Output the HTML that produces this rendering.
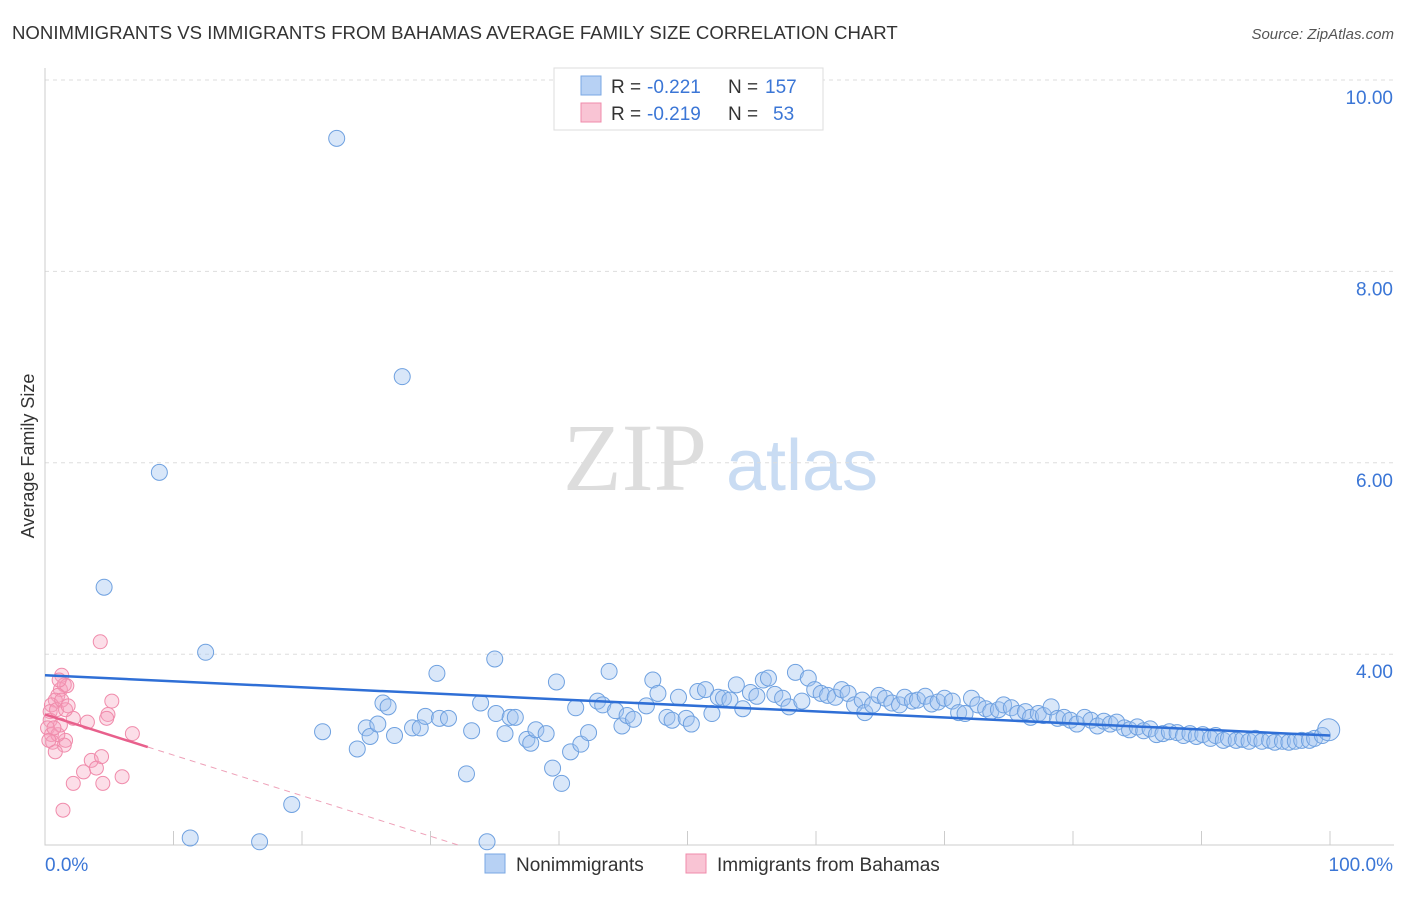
<!DOCTYPE html>
<html><head><meta charset="utf-8"><style>
body{margin:0;background:#fff;font-family:"Liberation Sans",sans-serif;}
</style></head><body>
<svg id="chart" width="1406" height="892" font-family="Liberation Sans, sans-serif">
<text x="12" y="39" font-size="18.6" fill="#333">NONIMMIGRANTS VS IMMIGRANTS FROM BAHAMAS AVERAGE FAMILY SIZE CORRELATION CHART</text>
<text x="1394" y="39" font-size="15" fill="#555" font-style="italic" text-anchor="end">Source: ZipAtlas.com</text>
<text transform="translate(34,456) rotate(-90)" font-size="18" fill="#333" text-anchor="middle">Average Family Size</text>
<g>
<text x="635" y="490" font-size="96" style="font-family:'Liberation Serif',serif" fill="#ddd" text-anchor="middle">ZIP</text>
<text x="802" y="490" font-size="72" fill="#c9dcf3" text-anchor="middle">atlas</text>
</g>
<g id="grid"></g><g id="axes"></g><g id="marks"></g>
<g>
<rect x="554" y="68" width="269" height="62" fill="#fff" stroke="#ddd"/>
<rect x="581" y="76" width="20" height="19" fill="#b7d1f4" stroke="#7aa7e3"/>
<rect x="581" y="103" width="20" height="19" fill="#f9c4d4" stroke="#f08bab"/>
<text x="611" y="93" font-size="19" fill="#333">R =</text>
<text x="647" y="93" font-size="19" fill="#3b76d6">-0.221</text>
<text x="728" y="93" font-size="19" fill="#333">N =</text>
<text x="765" y="93" font-size="19" fill="#3b76d6">157</text>
<text x="611" y="120" font-size="19" fill="#333">R =</text>
<text x="647" y="120" font-size="19" fill="#3b76d6">-0.219</text>
<text x="728" y="120" font-size="19" fill="#333">N =</text>
<text x="773" y="120" font-size="19" fill="#3b76d6">53</text>
</g>
<g>
<rect x="485" y="854" width="20" height="19" fill="#b7d1f4" stroke="#7aa7e3"/>
<text x="516" y="871" font-size="19" fill="#333">Nonimmigrants</text>
<rect x="686" y="854" width="20" height="19" fill="#f9c4d4" stroke="#f08bab"/>
<text x="717" y="871" font-size="19" fill="#333">Immigrants from Bahamas</text>
</g>
<text x="45" y="871" font-size="19" fill="#3b76d6">0.0%</text>
<text x="1393" y="871" font-size="19" fill="#3b76d6" text-anchor="end">100.0%</text>
</svg>
<script>
const yTicks=[4,6,8,10];
const yTickLabels=["4.00","6.00","8.00","10.00"];
const xTicks=[0,10,20,30,40,50,60,70,80,90,100];
const blueX=[22.7,27.8,8.9,4.6,12.5,11.3,16.7,19.2,34.4,21.6,24.3,25.0,25.3,25.9,26.3,26.7,27.2,28.6,29.2,29.6,30.5,30.7,31.4,32.8,33.2,33.9,35.0,35.1,35.8,36.2,36.6,37.5,37.8,38.2,39.0,39.5,39.8,40.2,40.9,41.3,41.7,42.3,43.0,43.4,43.9,44.4,44.9,45.3,45.8,46.8,47.3,47.7,48.4,48.8,49.3,49.9,50.3,50.8,51.4,51.9,52.4,52.8,53.3,53.8,54.3,54.9,55.4,55.9,56.3,56.8,57.4,57.9,58.4,58.9,59.4,59.9,60.4,60.9,61.5,62.0,62.5,63.0,63.6,63.8,64.4,64.9,65.4,65.9,66.5,66.9,67.5,67.9,68.5,69.0,69.5,70.0,70.6,71.1,71.6,72.1,72.6,73.2,73.6,74.2,74.6,75.2,75.7,76.3,76.7,77.3,77.7,78.3,78.8,79.3,79.8,80.3,80.9,81.4,81.9,82.4,82.9,83.4,84.0,84.4,85.0,85.5,86.0,86.5,87.0,87.5,88.1,88.6,89.1,89.6,90.1,90.7,91.1,91.7,92.1,92.7,93.2,93.7,94.2,94.7,95.3,95.7,96.3,96.8,97.3,97.8,98.4,98.8,99.4,99.9];
const blueY=[9.39,6.90,5.90,4.70,4.02,2.08,2.04,2.43,2.04,3.19,3.01,3.23,3.14,3.27,3.49,3.45,3.15,3.23,3.23,3.35,3.80,3.33,3.33,2.75,3.20,3.49,3.95,3.38,3.17,3.34,3.34,3.11,3.07,3.21,3.17,2.81,3.71,2.65,2.98,3.44,3.06,3.18,3.51,3.47,3.82,3.41,3.25,3.36,3.32,3.46,3.73,3.59,3.34,3.31,3.55,3.33,3.27,3.61,3.63,3.38,3.55,3.54,3.52,3.68,3.43,3.60,3.56,3.73,3.75,3.58,3.54,3.45,3.81,3.51,3.75,3.63,3.59,3.57,3.55,3.63,3.59,3.47,3.52,3.39,3.47,3.57,3.54,3.49,3.47,3.55,3.51,3.52,3.56,3.48,3.50,3.54,3.51,3.39,3.38,3.54,3.47,3.43,3.40,3.42,3.47,3.44,3.38,3.40,3.34,3.38,3.36,3.45,3.33,3.34,3.31,3.27,3.34,3.31,3.25,3.30,3.27,3.29,3.23,3.21,3.24,3.20,3.22,3.16,3.17,3.19,3.18,3.15,3.17,3.14,3.16,3.12,3.15,3.10,3.12,3.10,3.11,3.09,3.12,3.09,3.10,3.08,3.09,3.08,3.09,3.10,3.10,3.12,3.15,3.21];
const pinkX=[1.4,4.3,2.2,3.0,3.6,4.0,4.4,4.5,5.2,4.9,4.8,6.0,6.8,2.2,3.3,1.6,1.5,1.2,1.3,1.5,1.7,1.0,0.8,0.5,0.4,0.4,0.2,0.5,0.6,0.8,1.0,1.2,0.9,1.3,1.6,0.3,0.7,1.1,1.8];
const pinkY=[2.37,4.13,2.65,2.77,2.89,2.81,2.93,2.65,3.51,3.37,3.33,2.72,3.17,3.33,3.29,3.10,3.05,3.63,3.78,3.68,3.67,3.57,3.52,3.47,3.40,3.31,3.23,3.16,3.08,2.98,3.16,3.26,3.42,3.52,3.42,3.10,3.23,3.73,3.46];
const blueTrend=[[0,3.78],[100,3.15]];
const pinkTrend=[[0,3.37],[8,3.03]];
const pinkDash=[[8,3.03],[32.3,2.0]];
const NS="http://www.w3.org/2000/svg";
const xS=v=>45+v*12.85;
const yS=v=>80+(10-v)*95.7;
function mk(p,t,a){const e=document.createElementNS(NS,t);for(const k in a)e.setAttribute(k,a[k]);p.appendChild(e);return e;}
const grid=document.getElementById('grid'),axes=document.getElementById('axes'),marks=document.getElementById('marks');
yTicks.forEach((v,i)=>{
 const l=mk(grid,'line',{x1:45,x2:1394,y1:yS(v),y2:yS(v),stroke:'#ddd','stroke-dasharray':'4,4'});
 
 
 const t=mk(axes,'text',{x:1393,y:yS(v)+24,'font-size':19,fill:'#3b76d6','text-anchor':'end'});
 t.textContent=yTickLabels[i];
 
 
});
const ax=mk(axes,'path',{d:'M45,68 V845 H1394',fill:'none',stroke:'#ccc'});


xTicks.forEach(v=>{
 const l=mk(axes,'line',{x1:xS(v),x2:xS(v),y1:831,y2:845,stroke:'#ccc'});
 
 
});
blueX.forEach((x,i)=>{
 const c=mk(marks,'circle',{cx:xS(x),cy:yS(blueY[i]),r:i==blueX.length-1?11:8,fill:'rgba(160,195,240,0.4)',stroke:'#6fa1e0','stroke-width':1});
 
 
});
pinkX.forEach((x,i)=>{
 const c=mk(marks,'circle',{cx:xS(x),cy:yS(pinkY[i]),r:7,fill:'rgba(245,160,190,0.35)',stroke:'#f08bab','stroke-width':1});
 
 
});
const bt=mk(marks,'line',{x1:xS(blueTrend[0][0]),y1:yS(blueTrend[0][1]),x2:xS(blueTrend[1][0]),y2:yS(blueTrend[1][1]),stroke:'#2f6fd6','stroke-width':2.5});


const pt=mk(marks,'line',{x1:xS(pinkTrend[0][0]),y1:yS(pinkTrend[0][1]),x2:xS(pinkTrend[1][0]),y2:yS(pinkTrend[1][1]),stroke:'#e8608c','stroke-width':2.5});


const pd=mk(marks,'line',{x1:xS(pinkDash[0][0]),y1:yS(pinkDash[0][1]),x2:xS(pinkDash[1][0]),y2:yS(pinkDash[1][1]),stroke:'#eea0b8','stroke-width':1,'stroke-dasharray':'6,5'});


</script>
</body></html>
